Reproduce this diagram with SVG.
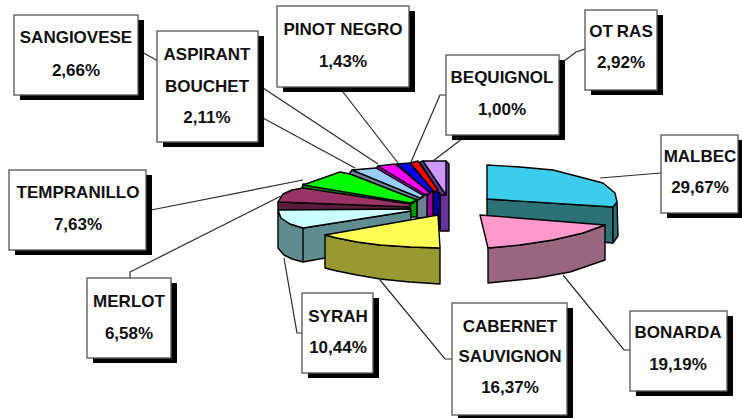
<svg xmlns="http://www.w3.org/2000/svg" width="742" height="418" viewBox="0 0 742 418">
<style>
.pie{stroke:#000;stroke-width:1.4;stroke-linejoin:round}
.conn{stroke:#2a2a2a;stroke-width:1.2;fill:none}
.box{fill:#fff;stroke:#555;stroke-width:1.3}
.shd{fill:#000}
.lbl{font-family:"Liberation Sans",Arial,sans-serif;font-weight:bold;font-size:17px;fill:#111;text-anchor:middle}
</style>
<rect width="742" height="418" fill="#fff"/>

<!-- right group -->
<g id="slice-malbec">
<polygon class="pie" fill="#2B7176" points="487,199 613,207 613,243 487,234"/>
<polygon class="pie" fill="#2B7176" points="613,207 617,202 618,236 613,243"/>
<polygon class="pie" fill="#3CCDEE" points="487,165 520,167 553,170 580,177 603,183 615,193 617,202 613,207 487,199"/>
</g>
<g id="slice-bonarda">
<polygon class="pie" fill="#996680" points="488,248 520,245 553,240 583,233 605,225 605,260 570,272 537,278 488,283"/>
<polygon class="pie" fill="#FF99CC" points="480,215 605,225 583,233 553,240 520,245 488,248"/>
</g>

<!-- left group: vertical side strips -->
<g id="slice-otras">
<polygon class="pie" fill="#663399" points="446,161 449,164 449,231 440,231 440,193"/>
<polygon class="pie" fill="#663399" points="420,162 423,161 446,195 440,195"/>
<polygon class="pie" fill="#CC99FF" points="423,161 446,161 446,195"/>
</g>
<g id="slice-bequignol">
<polygon class="pie" fill="#FF0000" points="410,163 418,161 438,190 434,192"/>
</g>
<g id="slice-pinot">
<polygon class="pie" fill="#000099" points="433,191 440,193 440,229 433,229"/>
<polygon class="pie" fill="#000099" points="394,166 397,164 434,192 430,194"/>
<polygon class="pie" fill="#0000FF" points="397,164 410,163 434,192 430,193"/>
</g>
<g id="slice-sangiovese">
<polygon class="pie" fill="#990099" points="427,194 433,191 433,223 427,223"/>
<polygon class="pie" fill="#990099" points="375,169 378,166 427,194 423,197"/>
<polygon class="pie" fill="#FF00FF" points="378,166 395,164 430,193 426,195"/>
</g>
<g id="slice-aspirant">
<polygon class="pie" fill="#6E8192" points="417,199 427,194 427,218 417,218"/>
<polygon class="pie" fill="#6E8192" points="349,174 352,170 423,197 417,201"/>
<polygon class="pie" fill="#99CCFF" points="352,170 376,168 424,196 420,198"/>
</g>
<g id="slice-tempranillo">
<polygon class="pie" fill="#009900" points="410,203 417,199 417,217 410,217"/>
<polygon class="pie" fill="#009900" points="302,188 303,184 417,200 410,205"/>
<polygon class="pie" fill="#00FF00" points="303,185 340,172 350,174 417,200 410,203"/>
</g>
<g id="slice-merlot">
<polygon class="pie" fill="#5A1C3C" points="278,202 410,206 410,210 278,210"/>
<polygon class="pie" fill="#993366" points="278,202 283,194 292,190 303,188 410,204 410,207"/>
</g>
<g id="slice-syrah">
<polygon class="pie" fill="#5F8C8E" points="278,211 281,218 290,224 303,228 411,211 411,240 325,258 303,262 292,259 284,255 278,248"/>
<line class="pie" x1="303" y1="228" x2="303" y2="262"/>
<polygon class="pie" fill="#CCFFFF" points="278,210 410,209 411,211 303,228 290,224 281,218"/>
</g>
<g id="slice-cabernet">
<polygon class="pie" fill="#999933" points="325,235 337,238 357,242 380,245 410,247 440,248 440,284 410,282 380,279 357,275 337,271 325,268"/>
<polygon class="pie" fill="#FFFF55" points="325,235 438,215 440,248 410,247 380,245 357,242 337,238"/>
</g>

<g id="connectors">
<polyline class="conn" points="138,50 355,168"/>
<polyline class="conn" points="263,88 378,164"/>
<polyline class="conn" points="343,92 398,163"/>
<polyline class="conn" points="446,95 440,95 411,162"/>
<polyline class="conn" points="585,49 576,52 433,161"/>
<polyline class="conn" points="661,173 600,178"/>
<polyline class="conn" points="630,350 624,350 563,275"/>
<polyline class="conn" points="452,359 445,359 380,280"/>
<polyline class="conn" points="302,333 297,333 284,258"/>
<polyline class="conn" points="130,278 130,272 281,196"/>
<polyline class="conn" points="146,211 303,180"/>
</g>

<g id="label-sangiovese">
<rect class="shd" x="20" y="20" width="124" height="80"/>
<rect class="box" x="14" y="15" width="124" height="80"/>
<text class="lbl" x="76" y="43">SANGIOVESE</text>
<text class="lbl" x="76" y="76">2,66%</text>
</g>
<g id="label-aspirant">
<rect class="shd" x="163" y="36" width="101" height="111"/>
<rect class="box" x="157" y="31" width="101" height="111"/>
<text class="lbl" x="207" y="60">ASPIRANT</text>
<text class="lbl" x="207" y="92">BOUCHET</text>
<text class="lbl" x="207" y="123">2,11%</text>
</g>
<g id="label-pinot">
<rect class="shd" x="283" y="11" width="132" height="81"/>
<rect class="box" x="277" y="6" width="132" height="81"/>
<text class="lbl" x="343" y="35">PINOT NEGRO</text>
<text class="lbl" x="343" y="67">1,43%</text>
</g>
<g id="label-bequignol">
<rect class="shd" x="452" y="60" width="113" height="80"/>
<rect class="box" x="446" y="55" width="113" height="80"/>
<text class="lbl" x="502" y="83">BEQUIGNOL</text>
<text class="lbl" x="502" y="115">1,00%</text>
</g>
<g id="label-otras">
<rect class="shd" x="591" y="15" width="72" height="80"/>
<rect class="box" x="585" y="10" width="72" height="80"/>
<text class="lbl" x="621" y="37">OT<tspan dx="4">RAS</tspan></text>
<text class="lbl" x="621" y="68">2,92%</text>
</g>
<g id="label-malbec">
<rect class="shd" x="667" y="140" width="77" height="78"/>
<rect class="box" x="661" y="135" width="77" height="78"/>
<text class="lbl" x="700" y="162">MALBEC</text>
<text class="lbl" x="700" y="193">29,67%</text>
</g>
<g id="label-bonarda">
<rect class="shd" x="636" y="316" width="97" height="80"/>
<rect class="box" x="630" y="311" width="97" height="80"/>
<text class="lbl" x="678" y="338">BONARDA</text>
<text class="lbl" x="678" y="370">19,19%</text>
</g>
<g id="label-cabernet">
<rect class="shd" x="458" y="308" width="115" height="112"/>
<rect class="box" x="452" y="303" width="115" height="112"/>
<text class="lbl" x="510" y="332">CABERNET</text>
<text class="lbl" x="510" y="362">SAUVIGNON</text>
<text class="lbl" x="510" y="393">16,37%</text>
</g>
<g id="label-tempranillo">
<rect class="shd" x="15" y="175" width="137" height="80"/>
<rect class="box" x="9" y="170" width="137" height="80"/>
<text class="lbl" x="78" y="198">TEMPRANILLO</text>
<text class="lbl" x="78" y="230">7,63%</text>
</g>
<g id="label-merlot">
<rect class="shd" x="93" y="283" width="84" height="80"/>
<rect class="box" x="87" y="278" width="84" height="80"/>
<text class="lbl" x="129" y="307">MERLOT</text>
<text class="lbl" x="129" y="339">6,58%</text>
</g>
<g id="label-syrah">
<rect class="shd" x="308" y="298" width="71" height="80"/>
<rect class="box" x="302" y="293" width="71" height="80"/>
<text class="lbl" x="338" y="322">SYRAH</text>
<text class="lbl" x="338" y="353">10,44%</text>
</g>
</svg>
